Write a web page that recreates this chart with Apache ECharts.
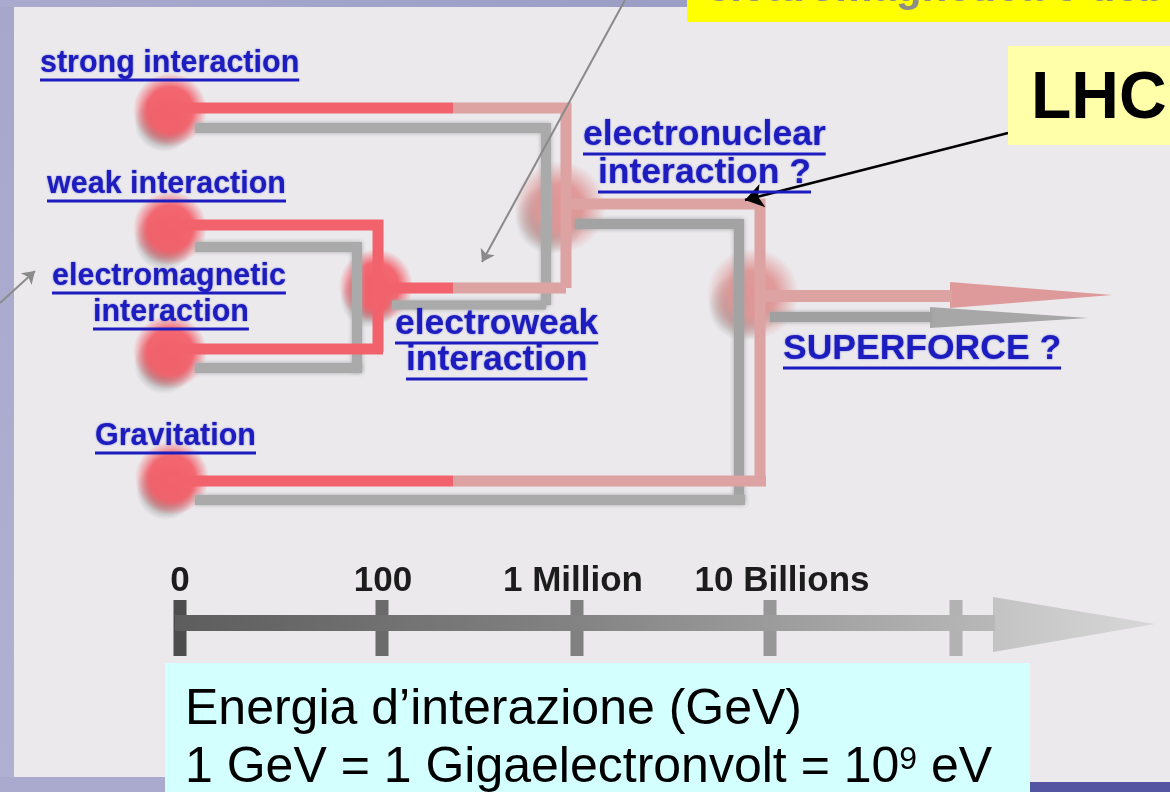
<!DOCTYPE html>
<html>
<head>
<meta charset="utf-8">
<script src="https://cdn.jsdelivr.net/npm/echarts@6/dist/echarts.min.js"></script>
<style>
html,body{margin:0;padding:0;background:#ebe9ec}
#main{width:1170px;height:792px}
</style>
</head>
<body>
<div id="main"></div>
<script>
// energy scale (GeV), positions along the diagram
let energyLabels = ['0', '100', '1 Million', '10 Billions']
let energyLabelX = [180, 383, 573, 782]
let energyTickX = [180, 382, 577, 770, 956]
let energyAxisY = 623
let energyLabelY = 593

// forces and unifications: label texts and where they sit (left, baseline)
let forceLabels = ['strong interaction', 'weak interaction', 'electromagnetic', 'interaction', 'Gravitation']
let forceLabelAt = [[40, 74], [47, 195], [52, 287], [93, 323], [95, 447]]
let unifLabels = ['electronuclear', 'interaction ?', 'electroweak', 'interaction', 'SUPERFORCE ?']
let unifLabelAt = [[583, 148], [598, 186], [395, 337], [406, 373], [783, 362]]

// nodes
let forceNodes = [[170, 110], [170, 228], [170, 352], [172, 478], [376, 286]]
let paleNodes = [[560, 207], [753, 294]]

// paths: bright red part, pale red part, grey shadow
let strongRed = [[168, 108], [453, 108]]
let strongPale = [[453, 108], [566, 108], [566, 288]]
let strongShadow = [[195, 128], [546, 128], [546, 305]]
let weakRed = [[168, 225], [378, 225], [378, 352]]
let weakShadow = [[195, 247], [357, 247], [357, 372]]
let emRed = [[168, 349], [383, 349]]
let emShadow = [[195, 368], [362, 368]]
let ewRed = [[376, 288], [453, 288]]
let ewPale = [[453, 288], [566, 288]]
let ewShadow = [[392, 305], [546, 305]]
let enPale = [[566, 204], [760, 204], [760, 482]]
let enShadow = [[575, 224], [739, 224], [739, 500]]
let gravRed = [[168, 481], [453, 481]]
let gravPale = [[453, 481], [766, 481]]
let gravShadow = [[195, 500], [745, 500]]
let sfPale = [[760, 296], [952, 296]]
let sfShadow = [[770, 317], [932, 317]]
// arrow heads: base x, base top, base bottom, tip x, tip y
let sfHead = [[950, 282, 308, 1112, 295]]
let sfShadowHead = [[930, 307, 328, 1088, 318]]
let axisHead = [[993, 597, 652, 1155, 624]]
let axisBar = [[175, 623], [995, 623]]

// pointer arrows
let pointers = [
  [[625, 0], [482, 262]],
  [[0, 303], [35, 271]]
]
let lhcPointer = [[1008, 133], [745, 200]]

const blue = '#1d1dbf'
const red = '#f1626c'
const pale = '#dda2a2'
const grey = '#aaaaaa'
const fam = '"Liberation Sans", Arial, Helvetica, sans-serif'

let ctx = document.createElement('canvas').getContext('2d')
function textWidth(t, font){
  ctx.font = font
  return ctx.measureText(t).width
}

function path(data, color, width, blur){
  return {
    type: 'line', data: data, showSymbol: false, silent: true, clip: false,
    lineStyle: {color: color, width: width, cap: 'butt', join: 'miter',
      shadowBlur: blur || 0, shadowColor: color}
  }
}

function head(data, color){
  return {
    type: 'custom', data: data, silent: true, clip: false,
    renderItem: function(params, api){
      let a = api.coord([api.value(0), api.value(1)])
      let b = api.coord([api.value(0), api.value(2)])
      let c = api.coord([api.value(3), api.value(4)])
      return {type: 'polygon', shape: {points: [a, c, b]}, style: {fill: color}}
    }
  }
}

function blob(data, rgb, size, dx, dy, core){
  return {
    type: 'scatter', data: data, symbolSize: size, silent: true,
    symbolOffset: [dx || 0, dy || 0],
    itemStyle: {
      opacity: 1,
      color: new echarts.graphic.RadialGradient(0.5, 0.5, 0.5, [
        {offset: 0, color: 'rgba(' + rgb + ',1)'},
        {offset: core || 0.5, color: 'rgba(' + rgb + ',0.95)'},
        {offset: 1, color: 'rgba(' + rgb + ',0)'}
      ])
    }
  }
}

function labels(texts, at, size){
  let font = 'bold ' + size + 'px ' + fam
  return {
    type: 'custom', silent: true, z: 5, clip: false,
    data: at.map((a, i) => [a[0], a[1], i]),
    renderItem: function(params, api){
      let i = api.value(2)
      let p = api.coord([api.value(0), api.value(1)])
      let w = textWidth(texts[i], font)
      return {type: 'group', children: [
        {type: 'text', x: p[0], y: p[1] - 0.3465 * size,
          style: {text: texts[i], font: font, fill: blue, align: 'left', verticalAlign: 'middle',
            textShadowBlur: 2, textShadowColor: 'rgba(29,29,191,0.6)'}},
        {type: 'rect', shape: {x: p[0], y: p[1] + 4.5, width: w, height: 3}, style: {fill: blue}}
      ]}
    }
  }
}

let tickColors = ['#4d4d4d', '#6b6b6b', '#808080', '#979797', '#b2b2b2']

let chart = echarts.init(document.getElementById('main'), null, {renderer: 'canvas'})

let option = {
  animation: false,
  grid: {left: 0, right: 0, top: 0, bottom: 0},
  xAxis: {type: 'value', min: 0, max: 1170, show: false},
  yAxis: {type: 'value', min: 0, max: 792, inverse: true, show: false},
  graphic: [
    {type: 'rect', z: -10, shape: {x: 0, y: 0, width: 1170, height: 792}, style: {fill: '#ebe9ec'}},
    {type: 'rect', z: -9, shape: {x: 0, y: 0, width: 14, height: 792},
      style: {fill: new echarts.graphic.LinearGradient(0, 0, 0, 1, [{offset: 0, color: '#a6a7cb'}, {offset: 1, color: '#b0b1d2'}])}},
    {type: 'rect', z: -9, shape: {x: 0, y: 0, width: 687, height: 7},
      style: {fill: new echarts.graphic.LinearGradient(0, 0, 1, 0, [{offset: 0, color: '#a9aacd'}, {offset: 1, color: '#9c9dc5'}])}},
    {type: 'rect', z: -9, shape: {x: 0, y: 777, width: 170, height: 15}, style: {fill: '#a9aacd'}},
    {type: 'rect', z: 10, shape: {x: 687, y: 0, width: 483, height: 22}, style: {fill: '#ffff00'}},
    {type: 'text', z: 11, x: 707, y: 4 - 0.3465 * 42,
      style: {text: 'elettromagnetica e debole', font: 'bold 42px ' + fam, fill: '#8c8c8c', verticalAlign: 'middle'}},
    {type: 'rect', z: 10, shape: {x: 1008, y: 46, width: 162, height: 99}, style: {fill: '#ffffaa'}},
    {type: 'text', z: 11, x: 1031, y: 123 - 0.3465 * 66,
      style: {text: 'LHC?', font: 'bold 66px ' + fam, fill: '#000', verticalAlign: 'middle'}},
    {type: 'rect', z: 10, shape: {x: 165, y: 663, width: 865, height: 129}, style: {fill: '#d4ffff'}},
    {type: 'text', z: 11, x: 185, y: 728 - 0.3465 * 50,
      style: {text: 'Energia d\u2019interazione (GeV)', font: '50px ' + fam, fill: '#000', verticalAlign: 'middle'}},
    {type: 'text', z: 11, x: 185, y: 786 - 0.3465 * 50,
      style: {text: '1 GeV = 1 Gigaelectronvolt = 10{sup|9} eV', font: '50px ' + fam, fill: '#000', verticalAlign: 'middle',
        rich: {sup: {font: '32px ' + fam, fill: '#000', verticalAlign: 'top'}}}},
    {type: 'rect', z: 10, shape: {x: 1030, y: 782, width: 140, height: 10}, style: {fill: '#5355a3'}}
  ],
  series: [
    // shadows
    path(strongShadow, grey, 10, 4),
    path(weakShadow, grey, 10, 4),
    path(emShadow, grey, 10, 4),
    path(ewShadow, grey, 9, 4),
    path(enShadow, '#a3a3a3', 10, 4),
    path(gravShadow, grey, 10, 4),
    path(sfShadow, '#a0a0a0', 10, 4),
    head(sfShadowHead, 'rgba(160,160,160,0.9)'),
    // pale red
    path(strongPale, pale, 11),
    path(ewPale, pale, 11),
    path(enPale, pale, 11),
    path(gravPale, pale, 11),
    path(sfPale, pale, 12),
    head(sfHead, 'rgba(221,150,150,0.95)'),
    // bright red
    path(strongRed, red, 11),
    path(weakRed, red, 11),
    path(emRed, red, 11),
    path(ewRed, red, 11),
    path(gravRed, red, 11),
    // nodes
    blob(forceNodes, '150,150,150', 60, -6, 12),
    blob(forceNodes, '243,96,106', 74, 0, 0, 0.62),
    blob(paleNodes, '160,160,160', 70, -10, 12),
    blob(paleNodes, '224,150,150', 92, 0, 0, 0.5),
    // energy axis
    path(axisBar, new echarts.graphic.LinearGradient(0, 0, 1, 0, [
      {offset: 0, color: '#5c5c5c'}, {offset: 0.5, color: '#848484'}, {offset: 1, color: '#b9b9b9'}]), 16),
    head(axisHead, new echarts.graphic.LinearGradient(0, 0, 1, 0, [
      {offset: 0, color: '#c3c3c3'}, {offset: 1, color: '#d8d8d8'}])),
    {
      type: 'custom', silent: true, clip: false,
      data: energyTickX.map((x, i) => [x, energyAxisY, i]),
      renderItem: function(params, api){
        let p = api.coord([api.value(0), api.value(1)])
        return {type: 'rect', shape: {x: p[0] - 6.5, y: p[1] - 23, width: 13, height: 56},
          style: {fill: tickColors[api.value(2)]}}
      }
    },
    {
      type: 'custom', silent: true, clip: false, z: 5,
      data: energyLabelX.map((x, i) => [x, energyLabelY, i]),
      renderItem: function(params, api){
        let p = api.coord([api.value(0), api.value(1)])
        return {type: 'text', x: p[0], y: p[1] - 0.3465 * 35,
          style: {text: energyLabels[api.value(2)], font: 'bold 35px ' + fam, fill: '#1c1c1c',
            align: 'center', verticalAlign: 'middle'}}
      }
    },
    // labels
    labels(forceLabels, forceLabelAt, 30.5),
    labels(unifLabels, unifLabelAt, 35.5),
    // pointers
    {
      type: 'line', data: [], silent: true,
      markLine: {
        silent: true, animation: false, symbol: ['none', 'arrow'], symbolSize: 12,
        label: {show: false},
        lineStyle: {color: '#8a8a8a', width: 2, type: 'solid'},
        data: pointers.map(p => [{coord: p[0]}, {coord: p[1]}])
      }
    },
    {
      type: 'line', data: [], silent: true,
      markLine: {
        silent: true, animation: false, symbol: ['none', 'arrow'], symbolSize: 18,
        label: {show: false},
        lineStyle: {color: '#000', width: 2.5, type: 'solid'},
        data: [[{coord: lhcPointer[0]}, {coord: lhcPointer[1]}]]
      }
    }
  ]
}

chart.setOption(option)
</script>
</body>
</html>
